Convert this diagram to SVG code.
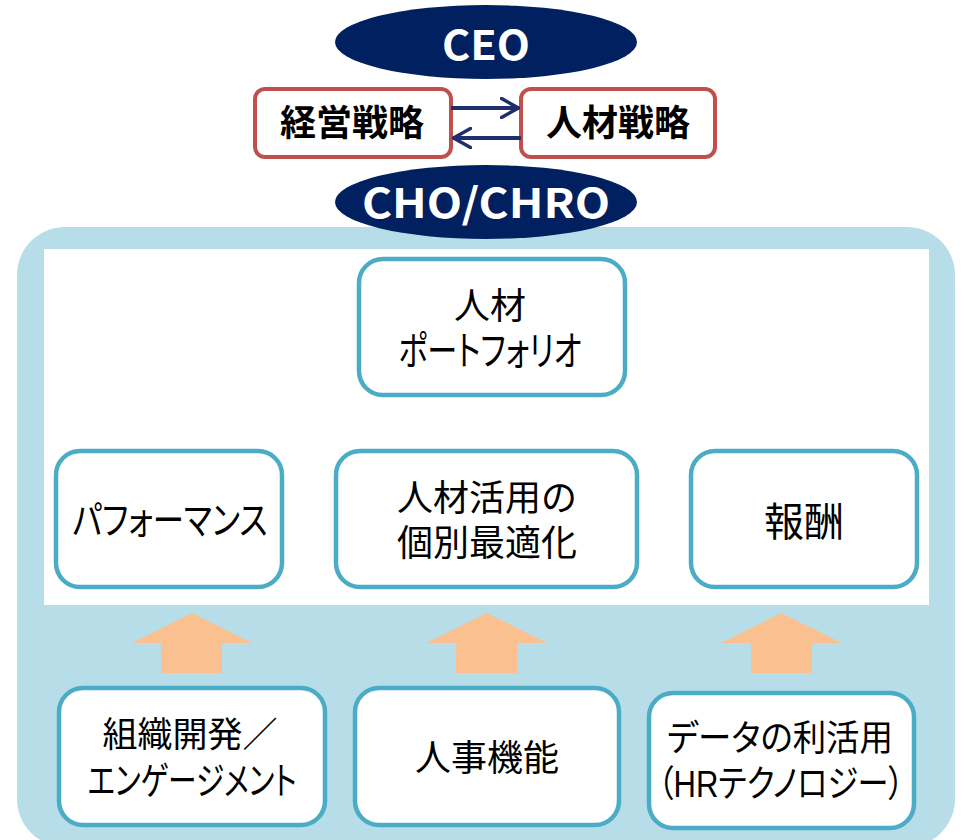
<svg xmlns="http://www.w3.org/2000/svg" width="962" height="840" viewBox="0 0 962 840">
<defs>
<style>
.jp{font-family:"Liberation Sans","Noto Sans CJK JP",sans-serif;fill:#000;text-anchor:middle}
.p{font-feature-settings:"palt" 1}
.b{font-weight:bold}
.ell{fill:#002060}
.wt{font-family:"Noto Sans CJK JP","DejaVu Sans",sans-serif;font-weight:bold;fill:#fff;text-anchor:middle;font-size:41px}
.red{fill:#fff;stroke:#C0504D;stroke-width:4}
.teal{fill:#fff;stroke:#4BACC6;stroke-width:4.5}
.up{fill:#FAC090}
.con{stroke:#1F2F6B;stroke-width:4;fill:none}
</style>
<marker id="ah" viewBox="0 0 20 22" refX="19" refY="11" markerWidth="20" markerHeight="22" markerUnits="userSpaceOnUse" orient="auto">
<path d="M1.5,1.5 L18.5,11 L1.5,20.5" fill="none" stroke="#1F2F6B" stroke-width="3.5" stroke-linecap="round" stroke-linejoin="round"/>
</marker>
</defs>
<rect width="962" height="840" fill="#fff"/>

<g id="panel">
<rect x="17" y="227" width="938" height="620" rx="48" ry="48" fill="#B7DEE8"/>
<rect x="44" y="249" width="885" height="356" fill="#fff"/>
</g>

<g id="ceo">
<ellipse class="ell" cx="486" cy="42" rx="151" ry="37"/>
<text class="wt" x="486" y="60" textLength="88" lengthAdjust="spacingAndGlyphs">CEO</text>
</g>

<g id="keiei">
<rect class="red" x="255" y="89" width="196" height="68" rx="10"/>
<text class="jp b" x="352" y="136" font-size="36">経営戦略</text>
</g>

<g id="jinzai-senryaku">
<rect class="red" x="521" y="89" width="194" height="68" rx="10"/>
<text class="jp b" x="618" y="136" font-size="36">人材戦略</text>
</g>

<g id="connectors">
<line class="con" x1="451" y1="108" x2="519" y2="108" marker-end="url(#ah)"/>
<line class="con" x1="521" y1="138" x2="453" y2="138" marker-end="url(#ah)"/>
</g>

<g id="cho">
<ellipse class="ell" cx="486" cy="202" rx="151" ry="37"/>
<text class="wt" x="486" y="218" textLength="248" lengthAdjust="spacingAndGlyphs">CHO/CHRO</text>
</g>

<g id="portfolio">
<rect class="teal" x="359" y="259" width="266" height="136" rx="24"/>
<text class="jp" x="490" y="319" font-size="36">人材</text>
<text class="jp p" x="490" y="365" font-size="40" textLength="183" lengthAdjust="spacingAndGlyphs">ポートフォリオ</text>
</g>

<g id="performance">
<rect class="teal" x="56" y="451" width="226" height="136" rx="24"/>
<text class="jp p" x="170" y="534" font-size="39" textLength="195" lengthAdjust="spacingAndGlyphs">パフォーマンス</text>
</g>

<g id="katsuyo">
<rect class="teal" x="336" y="451" width="301" height="136" rx="24"/>
<text class="jp" x="487" y="511" font-size="36">人材活用の</text>
<text class="jp" x="487" y="556" font-size="36">個別最適化</text>
</g>

<g id="hoshu">
<rect class="teal" x="691" y="451" width="226" height="136" rx="24"/>
<text class="jp" x="804" y="536" font-size="40">報酬</text>
</g>

<g id="arrows-up">
<polygon class="up" points="192,613 252,643 222,643 222,673 161,673 161,643 132,643"/>
<polygon class="up" points="487,613 547,643 517,643 517,673 456,673 456,643 426,643"/>
<polygon class="up" points="781,613 842,643 812,643 812,673 751,673 751,643 721,643"/>
</g>

<g id="soshiki">
<rect class="teal" x="59" y="688" width="266" height="137" rx="24"/>
<text class="jp" x="190" y="747" font-size="35">組織開発／</text>
<text class="jp p" x="192" y="794" font-size="38" textLength="209" lengthAdjust="spacingAndGlyphs">エンゲージメント</text>
</g>

<g id="jinji">
<rect class="teal" x="355" y="688" width="264" height="137" rx="24"/>
<text class="jp" x="487" y="771" font-size="36">人事機能</text>
</g>

<g id="data">
<rect class="teal" x="649" y="693" width="265" height="135" rx="24"/>
<text class="jp p" x="780" y="751" font-size="36" textLength="226" lengthAdjust="spacingAndGlyphs">データの利活用</text>
<text class="jp p" x="781" y="797" font-size="37" textLength="246" lengthAdjust="spacingAndGlyphs">（HRテクノロジー）</text>
</g>
</svg>
